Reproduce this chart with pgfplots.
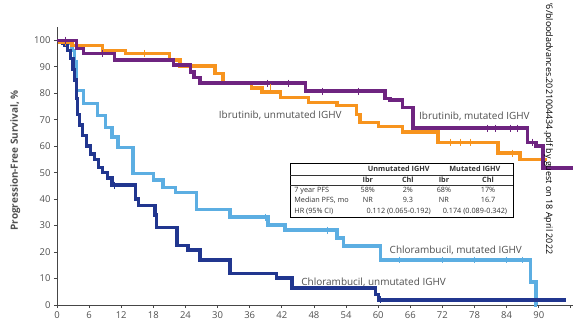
\documentclass[border=0pt]{standalone}
\usepackage{fontspec}
\setmainfont{Open Sans}
\usepackage{pgfplots}
\pgfplotsset{compat=1.18}
\definecolor{ibrM}{RGB}{110,36,128}
\definecolor{ibrU}{RGB}{247,148,30}
\definecolor{chlM}{RGB}{92,174,226}
\definecolor{chlU}{RGB}{33,54,143}
\definecolor{axisgray}{RGB}{70,70,70}
\definecolor{labelgray}{RGB}{80,80,80}
\begin{document}
\begin{tikzpicture}
\begin{axis}[
  scale only axis, width=516bp, height=278bp,
  xmin=0, xmax=96.4, ymin=0, ymax=105,
  axis lines=left, axis line style={draw=axisgray, line width=1pt, -},
  xtick={0,6,...,96}, xticklabels={0,6,12,18,24,30,36,42,48,54,60,66,72,78,84,90,{}},
  ytick={0,10,...,100},
  tick style={draw=axisgray, line width=0.8pt}, tick align=outside, major tick length=3bp,
  ticklabel style={font=\fontsize{9.5}{10}\selectfont, text=labelgray},
  /pgf/number format/assume math mode=true,
  ylabel={Progression-Free Survival, \%},
  ylabel style={font=\bfseries\fontsize{10}{12}\selectfont, text=labelgray, at={(axis description cs:-0.081,0.52)}, anchor=center},
  clip=false,
  every axis plot/.append style={line width=3.3pt, const plot mark left, line join=miter},
]
% Chlorambucil, mutated (light blue)
\addplot[chlM] coordinates {(0,100)(2.2,99)(2.8,96)(3.3,92)(3.7,81)(4.9,76)(7.5,71.7)(9,67)(10.3,63.4)(11.4,59.6)(14.2,49.7)(18,47.2)(19.8,44.5)(22.2,42.6)(26,36)(32.3,33.2)(39.4,30.2)(42.6,28.3)(52.3,25.3)(53.5,22.3)(60.5,17)(88.4,8.7)(89.5,0)(89.6,0)};
% Chlorambucil, unmutated (dark blue)
\addplot[chlU] coordinates {(0,100)(1,99)(1.5,98)(2,96)(2.5,93)(3,89)(3.3,85)(3.6,78)(3.8,72)(4.2,68)(4.8,64)(5.5,60)(6.3,57)(7,55)(7.7,52)(8.5,50)(9.5,48)(10.3,45.3)(14.6,40)(15.2,37.7)(18.3,34)(18.6,29.4)(22.4,22.6)(24.5,20.8)(26.7,17)(32.3,12)(41,10.2)(43.9,6.4)(59.5,4)(60,1.9)(95,1.9)};
% Ibrutinib, unmutated (orange)
\addplot[ibrU] coordinates {(0,100)(0.5,99.2)(2.8,98)(8.5,96.2)(12.8,95)(21,92.5)(23,90.3)(29.5,87.5)(31,84)(36.4,82)(38.3,80.4)(41.7,78.5)(47,76.6)(52.3,75.3)(56,72)(56.6,69)(60,67.5)(64.5,65.3)(71.2,61.5)(82.4,57.4)(86.5,55)(91.5,55)};
% Ibrutinib, mutated (purple)
\addplot[ibrM] coordinates {(0,100)(3.7,97)(4.9,95)(10.8,92.5)(21.7,90.6)(24.9,88)(25.6,86)(26.7,83.8)(46.4,80.8)(61.3,78)(62.2,77.4)(64.5,74.5)(66.5,66.8)(87.9,61.5)(89.5,60)(90.8,51.7)(96.4,51.7)};
% censor marks
\addplot[chlM, only marks, mark=|, mark size=3.5pt, line width=0.9pt] coordinates {(38.9,33.2)(50.5,28.3)(64,17)(72,17)(78,17)(84,17)(87,17)};
\addplot[chlU, only marks, mark=|, mark size=3.5pt, line width=0.9pt] coordinates {(10.8,45.3)(60.5,1.9)};
\addplot[ibrU, only marks, mark=|, mark size=3.5pt, line width=0.9pt] coordinates {(1.5,99.2)(16.4,95)(39.8,82)(73.5,61.5)(75.3,61.5)(77.2,61.5)(85,57.4)};
\addplot[ibrM, only marks, mark=|, mark size=3.5pt, line width=0.9pt] coordinates {(1.5,100)(8.4,95)(39.4,83.8)(43.2,83.8)(49.5,80.8)(56.3,80.8)(80.4,66.8)(81.9,66.8)(84.7,66.8)(86,66.8)(88.8,61.5)};
% curve labels
\node[anchor=west, text=labelgray, font=\fontsize{10}{12}\selectfont] at (axis cs:29.6,71.7) {Ibrutinib, unmutated IGHV};
\node[anchor=west, text=labelgray, font=\fontsize{10}{12}\selectfont] at (axis cs:67.0,71.2) {Ibrutinib, mutated IGHV};
\node[anchor=west, text=labelgray, font=\fontsize{10}{12}\selectfont] at (axis cs:61.5,20.8) {Chlorambucil, mutated IGHV};
\node[anchor=west, text=labelgray, font=\fontsize{10}{12}\selectfont] at (axis cs:45.0,8.7) {Chlorambucil, unmutated IGHV};
% table
\node[draw=black, line width=0.7pt, fill=white, inner xsep=0pt, inner ysep=1.5pt, text=black!80, font=\fontsize{7.3}{10.2}\selectfont] at (axis cs:64.4,43.3) {%
\begin{tabular}{@{\hspace{4pt}}l@{\hspace{12pt}}c@{\hspace{18pt}}c@{\hspace{14pt}}c@{\hspace{18pt}}c@{\hspace{6pt}}}
 & \multicolumn{2}{c}{\bfseries Unmutated IGHV} & \multicolumn{2}{c}{\bfseries Mutated IGHV}\\ \hline
 & \bfseries Ibr & \bfseries Chl & \bfseries Ibr & \bfseries Chl\\ \hline
7 year PFS & 58\% & 2\% & 68\% & 17\%\\
Median PFS, mo & NR & 9.3 & NR & 16.7\\
HR (95\% CI) & \multicolumn{2}{c}{0.112 (0.065-0.192)} & \multicolumn{2}{c}{0.174 (0.089-0.342)}
\end{tabular}};
% download stamp
\node[rotate=-90, anchor=west, text=black, font=\fontsize{9}{10}\selectfont, inner sep=0pt] at (axis cs:91.8,114) {'6/bloodadvances.2021004434.pdf by guest on 18 April 2022};
\end{axis}
\pgfresetboundingbox
\path[use as bounding box] ([shift={(-57bp,-19bp)}]current axis.south west) rectangle ([shift={(0bp,27bp)}]current axis.north east);
\end{tikzpicture}
\end{document}
